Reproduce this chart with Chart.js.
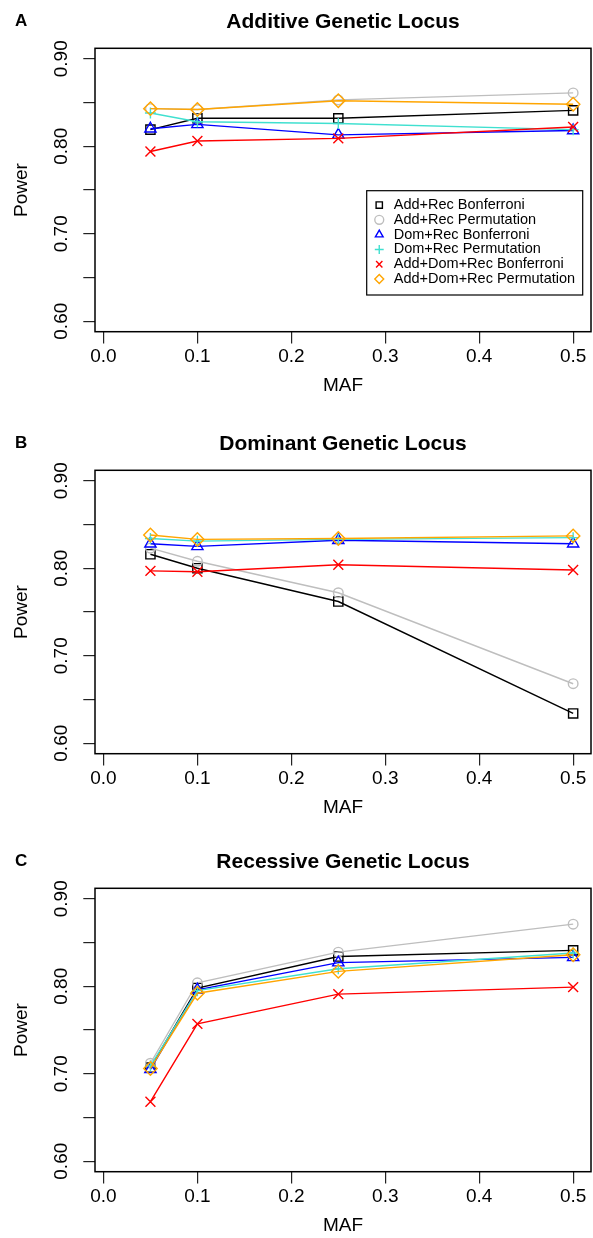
<!DOCTYPE html>
<html>
<head>
<meta charset="utf-8">
<script src="https://cdn.jsdelivr.net/npm/chart.js@4.4.0/dist/chart.umd.min.js"></script>
<style>
  html, body { margin: 0; padding: 0; background: #fff; }
  body { width: 593px; height: 1238px; overflow: hidden; position: relative; }
  .panel { position: absolute; left: 0; width: 593px; height: 398px; }
  .letter { position: absolute; left: 15px; font: bold 17px "Liberation Sans", Arial, sans-serif; line-height: 17px; color: #000; }
</style>
</head>
<body>
<div class="panel" style="top:0px"><canvas id="chartA" width="593" height="398"></canvas></div>
<div class="panel" style="top:422px"><canvas id="chartB" width="593" height="398"></canvas></div>
<div class="panel" style="top:840px"><canvas id="chartC" width="593" height="398"></canvas></div>
<div class="letter" style="top:12px">A</div>
<div class="letter" style="top:434px">B</div>
<div class="letter" style="top:852px">C</div>
<script>
// ---------- data ----------
const maf = [0.05, 0.1, 0.25, 0.5];
const xTicks = [0, 0.1, 0.2, 0.3, 0.4, 0.5];
const xTickLabels = ['0.0', '0.1', '0.2', '0.3', '0.4', '0.5'];
const yTicks = [0.60, 0.65, 0.70, 0.75, 0.80, 0.85, 0.90];
const yTickLabels = ['0.60', '', '0.70', '', '0.80', '', '0.90'];
const seriesNames = ['Add+Rec Bonferroni', 'Add+Rec Permutation', 'Dom+Rec Bonferroni',
                     'Dom+Rec Permutation', 'Add+Dom+Rec Bonferroni', 'Add+Dom+Rec Permutation'];
const panelTitles = ['Additive Genetic Locus', 'Dominant Genetic Locus', 'Recessive Genetic Locus'];

// Panel A: additive locus
const additiveAddRecBonf    = [0.819, 0.832, 0.832, 0.841];
const additiveAddRecPerm    = [0.843, 0.842, 0.853, 0.861];
const additiveDomRecBonf    = [0.820, 0.825, 0.813, 0.818];
const additiveDomRecPerm    = [0.838, 0.828, 0.826, 0.819];
const additiveAddDomRecBonf = [0.794, 0.806, 0.809, 0.822];
const additiveAddDomRecPerm = [0.843, 0.842, 0.852, 0.848];

// Panel B: dominant locus
const dominantAddRecBonf    = [0.816, 0.800, 0.762, 0.634];
const dominantAddRecPerm    = [0.823, 0.808, 0.772, 0.668];
const dominantDomRecBonf    = [0.828, 0.825, 0.832, 0.828];
const dominantDomRecPerm    = [0.834, 0.831, 0.833, 0.835];
const dominantAddDomRecBonf = [0.797, 0.796, 0.804, 0.798];
const dominantAddDomRecPerm = [0.838, 0.833, 0.834, 0.837];

// Panel C: recessive locus
const recessiveAddRecBonf    = [0.707, 0.798, 0.834, 0.841];
const recessiveAddRecPerm    = [0.712, 0.804, 0.839, 0.871];
const recessiveDomRecBonf    = [0.705, 0.796, 0.827, 0.833];
const recessiveDomRecPerm    = [0.709, 0.795, 0.820, 0.838];
const recessiveAddDomRecBonf = [0.668, 0.757, 0.791, 0.799];
const recessiveAddDomRecPerm = [0.706, 0.792, 0.817, 0.836];

// ---------- styles ----------
const seriesColors = ['#000000', '#BEBEBE', '#0000FF', '#40E0D0', '#FF0000', '#FFA500'];
const seriesShapes = ['rect', 'circle', 'triangle', 'cross', 'crossRot', 'rectRot'];
const seriesRadius = [6.5, 4.8, 6.5, 5.5, 7, 6.7];

const FONT = '"Liberation Sans", Arial, Helvetica, sans-serif';
Chart.defaults.font.family = FONT;
Chart.defaults.color = '#000';

const framePlugin = {
  id: 'frame',
  afterDatasetsDraw(chart) {
    const { ctx, chartArea: a } = chart;
    ctx.save();
    ctx.strokeStyle = '#000';
    ctx.lineWidth = 1.5;
    ctx.strokeRect(a.left, a.top, a.right - a.left, a.bottom - a.top);
    ctx.restore();
  }
};

// places the library legend inside the plot region (R style boxed legend)
const legendPlacer = {
  id: 'legendPlacer',
  beforeDraw(chart) {
    const L = chart.legend;
    if (!L || !L.options.display) return;
    const a = chart.chartArea;
    const fr = a.right - 8.3, fb = a.bottom - 36.7;
    const fl = fr - 216, ft = fb - 104.3;
    L.left = fl + 5; L.top = ft + 6.8; L.right = fr; L.bottom = fb;
    chart._legendFrame = { fl, ft, fr, fb };
  },
  afterDraw(chart) {
    const f = chart._legendFrame;
    if (!f) return;
    const ctx = chart.ctx;
    ctx.save();
    ctx.strokeStyle = '#000';
    ctx.lineWidth = 1.2;
    ctx.strokeRect(f.fl, f.ft, f.fr - f.fl, f.fb - f.ft);
    ctx.restore();
  }
};

function makeChart(canvasId, title, seriesList, showLegend) {
  const datasets = seriesList.map((vals, i) => ({
    label: seriesNames[i],
    data: maf.map((x, j) => ({ x: x, y: vals[j] })),
    borderColor: seriesColors[i],
    backgroundColor: 'rgba(0,0,0,0)',
    borderWidth: 1.4,
    pointStyle: seriesShapes[i],
    pointRadius: seriesRadius[i],
    pointBorderColor: seriesColors[i],
    pointBackgroundColor: 'rgba(0,0,0,0)',
    pointBorderWidth: 1.4,
    tension: 0,
    order: seriesList.length - 1 - i
  }));
  const axisFont = { family: FONT, size: 19 };
  return new Chart(document.getElementById(canvasId), {
    type: 'line',
    data: { datasets },
    plugins: [framePlugin, legendPlacer],
    options: {
      responsive: false,
      animation: false,
      devicePixelRatio: 1,
      layout: { autoPadding: false, padding: { left: 0, right: 2, top: 0, bottom: 0 } },
      plugins: {
        title: {
          display: true, text: title, fullSize: false,
          font: { family: FONT, size: 21, weight: 'bold', lineHeight: 1.2 },
          color: '#000',
          padding: { top: 9.6, bottom: 13.5 }
        },
        legend: {
          display: showLegend,
          position: 'chartArea',
          align: 'start',
          labels: {
            usePointStyle: true,
            boxHeight: 6.3,
            padding: 0.3,
            color: '#000',
            font: { family: FONT, size: 14.5 },
            sort: (a, b) => a.datasetIndex - b.datasetIndex
          }
        },
        tooltip: { enabled: false }
      },
      scales: {
        x: {
          type: 'linear', position: 'bottom',
          min: -0.009, max: 0.519,
          afterBuildTicks: s => { s.ticks = xTicks.map(v => ({ value: v })); },
          afterFit: s => { s.height = 66.3; s.paddingLeft = 0; s.paddingRight = 0; },
          ticks: {
            autoSkip: false, maxRotation: 0, minRotation: 0,
            padding: 1.9, font: axisFont, color: '#000',
            callback: (v, i) => xTickLabels[i]
          },
          grid: { display: true, drawOnChartArea: false, drawTicks: true, tickLength: 11.7, color: '#222', lineWidth: 1.2 },
          border: { display: false },
          title: { display: true, text: 'MAF', font: axisFont, color: '#000', padding: { top: 0, bottom: 0.8 } }
        },
        y: {
          type: 'linear', position: 'left',
          min: 0.588, max: 0.912,
          afterBuildTicks: s => { s.ticks = yTicks.map(v => ({ value: v })); },
          afterFit: s => { s.width = 95; s.paddingTop = 0; s.paddingBottom = 0; },
          ticks: {
            autoSkip: false, minRotation: 90, maxRotation: 90,
            crossAlign: 'center', padding: 3, font: axisFont, color: '#000',
            callback: (v, i) => yTickLabels[i]
          },
          grid: { display: true, drawOnChartArea: false, drawTicks: true, tickLength: 11.7, color: '#222', lineWidth: 1.2 },
          border: { display: false },
          title: { display: true, text: 'Power', font: axisFont, color: '#000', padding: { top: 10.6, bottom: 0 } }
        }
      }
    }
  });
}

makeChart('chartA', panelTitles[0],
  [additiveAddRecBonf, additiveAddRecPerm, additiveDomRecBonf, additiveDomRecPerm, additiveAddDomRecBonf, additiveAddDomRecPerm], true);
makeChart('chartB', panelTitles[1],
  [dominantAddRecBonf, dominantAddRecPerm, dominantDomRecBonf, dominantDomRecPerm, dominantAddDomRecBonf, dominantAddDomRecPerm], false);
makeChart('chartC', panelTitles[2],
  [recessiveAddRecBonf, recessiveAddRecPerm, recessiveDomRecBonf, recessiveDomRecPerm, recessiveAddDomRecBonf, recessiveAddDomRecPerm], false);
</script>
</body>
</html>
